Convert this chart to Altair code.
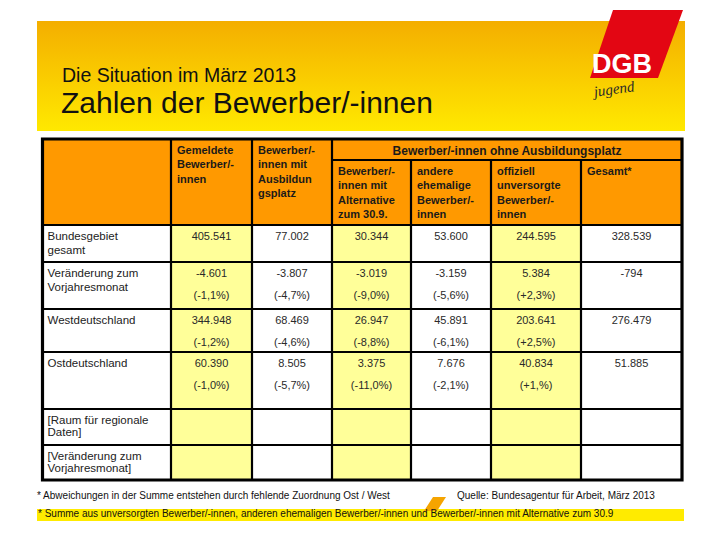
import altair as alt
import pandas as pd

# ---------------- data ----------------
title_small = "Die Situation im März 2013"
title_big = "Zahlen der Bewerber/-innen"

row_labels = [
    "Bundesgebiet\ngesamt",
    "Veränderung zum\nVorjahresmonat",
    "Westdeutschland",
    "Ostdeutschland",
    "[Raum für regionale\nDaten]",
    "[Veränderung zum\nVorjahresmonat]",
]
col_headers = [
    "Gemeldete\nBewerber/-\ninnen",
    "Bewerber/-\ninnen mit\nAusbildun\ngsplatz",
    "Bewerber/-\ninnen mit\nAlternative\nzum 30.9.",
    "andere\nehemalige\nBewerber/-\ninnen",
    "offiziell\nunversorgte\nBewerber/-\ninnen",
    "Gesamt*",
]
group_header = "Bewerber/-innen ohne Ausbildungsplatz"

gemeldete = ["405.541", "-4.601", "344.948", "60.390"]
gemeldete_pct = ["", "(-1,1%)", "(-1,2%)", "(-1,0%)"]
mit_platz = ["77.002", "-3.807", "68.469", "8.505"]
mit_platz_pct = ["", "(-4,7%)", "(-4,6%)", "(-5,7%)"]
alternative = ["30.344", "-3.019", "26.947", "3.375"]
alternative_pct = ["", "(-9,0%)", "(-8,8%)", "(-11,0%)"]
andere = ["53.600", "-3.159", "45.891", "7.676"]
andere_pct = ["", "(-5,6%)", "(-6,1%)", "(-2,1%)"]
offiziell = ["244.595", "5.384", "203.641", "40.834"]
offiziell_pct = ["", "(+2,3%)", "(+2,5%)", "(+1,%)"]
gesamt = ["328.539", "-794", "276.479", "51.885"]
gesamt_pct = ["", "", "", ""]

footnote_1 = "* Abweichungen in der Summe entstehen durch fehlende Zuordnung Ost / West"
source = "Quelle: Bundesagentur für Arbeit, März 2013"
footnote_2 = "* Summe aus unversorgten Bewerber/-innen, anderen ehemaligen Bewerber/-innen und Bewerber/-innen mit Alternative zum 30.9"

columns = [
    (gemeldete, gemeldete_pct),
    (mit_platz, mit_platz_pct),
    (alternative, alternative_pct),
    (andere, andere_pct),
    (offiziell, offiziell_pct),
    (gesamt, gesamt_pct),
]

# ---------------- layout (page pixel space) ----------------
W, H = 704, 524
col_edges = [42.5, 171, 252, 332, 411, 491, 581, 682]
row_edges = [139, 225, 262, 309, 352, 409, 445, 480]
sub_header_y = 160
FONT = "Liberation Sans"

XS = alt.Scale(domain=[8, 8 + W], nice=False, zero=False)
YS = alt.Scale(domain=[8, 8 + H], nice=False, zero=False, reverse=True)


def X(f="x"):
    return alt.X(f"{f}:Q", scale=XS, axis=None)


def Y(f="y"):
    return alt.Y(f"{f}:Q", scale=YS, axis=None)


def rects(df, **mk):
    return alt.Chart(pd.DataFrame(df)).mark_rect(**mk).encode(
        x=X("x"), x2="x2:Q", y=Y("y"), y2="y2:Q")


def texts(df, **mk):
    base = dict(font=FONT, baseline="middle")
    base.update(mk)
    return alt.Chart(pd.DataFrame(df)).mark_text(**base).encode(
        x=X("x"), y=Y("y"), text="t:N")


def split_lines(x, y0, label, lh):
    return [{"x": x, "y": y0 + i * lh, "t": s} for i, s in enumerate(label.split("\n"))]


layers = []

# banner with gradient
banner = rects([{"x": 37, "x2": 685, "y": 21, "y2": 131}],
               fill=alt.LinearGradient(gradient="linear",
                                       stops=[alt.GradientStop(color="#F4AE00", offset=0),
                                              alt.GradientStop(color="#FFE900", offset=1)],
                                       x1=0, x2=0, y1=0, y2=1))
layers.append(banner)

# logo: red parallelogram
logo = alt.Chart(pd.DataFrame([{"y": 10, "x": 613, "x2": 683},
                               {"y": 78, "x": 590, "x2": 658}])).mark_area(
    orient="horizontal", color="#E30613").encode(y=Y("y"), x=X("x"), x2="x2:Q")
layers.append(logo)
layers.append(texts([{"x": 622, "y": 65, "t": "DGB"}], fontSize=27, fontWeight="bold",
                    color="white", align="center"))
layers.append(texts([{"x": 614, "y": 89, "t": "jugend"}], fontSize=15, fontStyle="italic",
                    font="Liberation Serif", color="#2a2a2a", align="center", angle=352))

# titles
layers.append(texts([{"x": 62, "y": 76, "t": title_small}], fontSize=19.5, color="#111",
                    align="left"))
layers.append(texts([{"x": 61, "y": 104, "t": title_big}], fontSize=30, color="#111",
                    align="left"))

# header background
layers.append(rects([{"x": col_edges[0], "x2": col_edges[-1], "y": row_edges[0], "y2": row_edges[1]}],
                    fill="#FF9900"))
# light yellow columns
yel = [{"x": col_edges[i], "x2": col_edges[i + 1], "y": row_edges[1], "y2": row_edges[-1]}
       for i in (1, 3, 5)]
layers.append(rects(yel, fill="#FFFF99"))

# grid lines
lines = []
for yv in row_edges[1:-1]:
    lines.append({"x": col_edges[0], "x2": col_edges[-1], "y": yv, "y2": yv})
lines.append({"x": col_edges[3], "x2": col_edges[-1], "y": sub_header_y, "y2": sub_header_y})
for i, xv in enumerate(col_edges[1:-1], start=1):
    top = row_edges[0] if i <= 3 else sub_header_y
    lines.append({"x": xv, "x2": xv, "y": top, "y2": row_edges[-1]})
layers.append(alt.Chart(pd.DataFrame(lines)).mark_rule(color="black", strokeWidth=2.2).encode(
    x=X("x"), x2="x2:Q", y=Y("y"), y2="y2:Q"))
# outer border
layers.append(rects([{"x": col_edges[0], "x2": col_edges[-1], "y": row_edges[0], "y2": row_edges[-1]}],
                    fillOpacity=0, stroke="black", strokeWidth=3.2))

# header texts
hdr = []
for i, h in enumerate(col_headers):
    x = col_edges[i + 1] + 6
    y0 = 151 if i < 2 else 172
    hdr += split_lines(x, y0, h, 14.4)
layers.append(texts(hdr, fontSize=11, fontWeight="bold", color="#1a1a1a", align="left"))
layers.append(texts([{"x": (col_edges[3] + col_edges[-1]) / 2, "y": 150.5, "t": group_header}],
                    fontSize=12, fontWeight="bold", color="#1a1a1a", align="center"))

# row labels
rl = []
for r, lab in enumerate(row_labels):
    lh = 14.5 if r < 4 else 12.5
    rl += split_lines(col_edges[0] + 5, row_edges[r + 1] + 11.5, lab, lh)
layers.append(texts(rl, fontSize=11.5, color="#222", align="left"))

# values
vals = []
for c, (v, p) in enumerate(columns):
    cx = (col_edges[c + 1] + col_edges[c + 2]) / 2
    for r in range(len(v)):
        top = row_edges[r + 1]
        vals.append({"x": cx, "y": top + 11.5, "t": v[r]})
        if p[r]:
            vals.append({"x": cx, "y": top + 33.5, "t": p[r]})
layers.append(texts(vals, fontSize=11, color="#2a2a2a", align="center"))

# footer
layers.append(rects([{"x": 37, "x2": 684, "y": 509, "y2": 521}], fill="#FFEB00"))
foot_shape = alt.Chart(pd.DataFrame([{"y": 497, "x": 433, "x2": 446},
                                     {"y": 511, "x": 424, "x2": 437}])).mark_area(
    orient="horizontal", color="#F5A400").encode(y=Y("y"), x=X("x"), x2="x2:Q")
layers.append(foot_shape)
layers.append(texts([{"x": 37, "y": 496, "t": footnote_1}], fontSize=10, color="#111", align="left"))
layers.append(texts([{"x": 457, "y": 496, "t": source}], fontSize=10, color="#111", align="left"))
layers.append(texts([{"x": 38, "y": 514, "t": footnote_2}], fontSize=10, color="#111", align="left"))

chart = alt.layer(*layers).properties(width=W, height=H, padding=0, autosize="none").configure_view(
    stroke=None)

chart.save("out.html", embed_options={"renderer": "svg", "actions": False})
